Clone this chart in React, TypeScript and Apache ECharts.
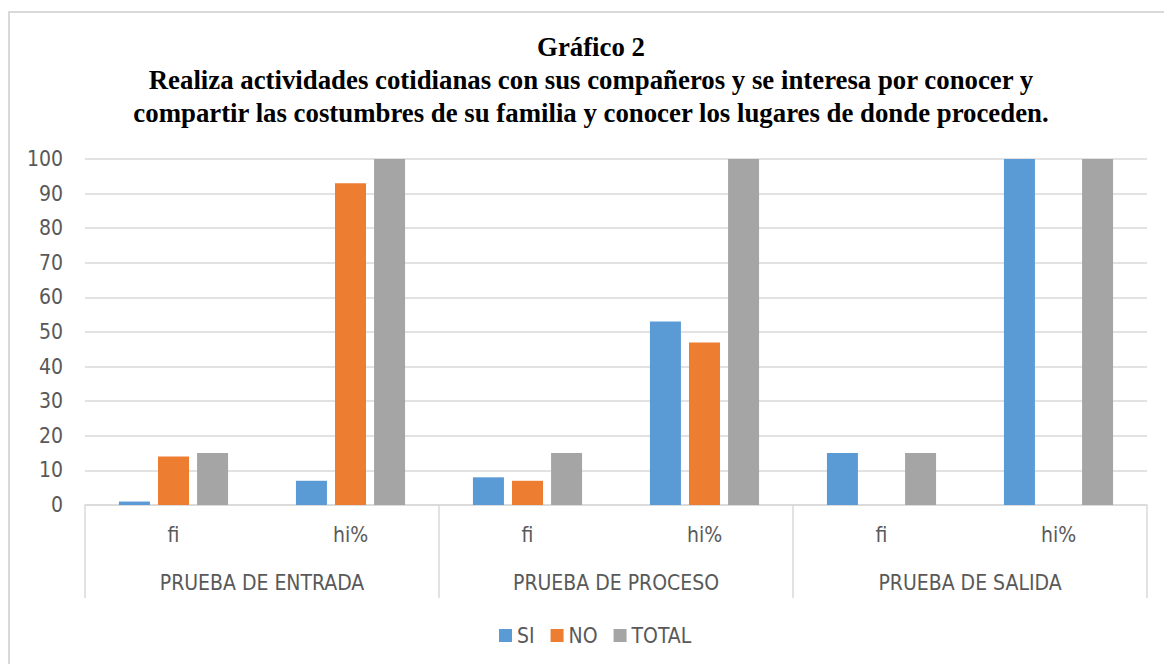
import React, { useEffect, useRef } from "react";
import * as echarts from "echarts";

const subCategories = ["fi", "hi%", "fi", "hi%", "fi", "hi%"];
const groups = ["PRUEBA DE ENTRADA", "PRUEBA DE PROCESO", "PRUEBA DE SALIDA"];
const siValues = [1, 7, 8, 53, 15, 100];
const noValues = [14, 93, 7, 47, 0, 0];
const totalValues = [15, 100, 15, 100, 15, 100];
const titleLines = [
  "Gráfico 2",
  "Realiza actividades cotidianas con sus compañeros y se interesa por conocer y",
  "compartir las costumbres de su familia y conocer los lugares de donde proceden.",
];

const LABEL_FONT = "Liberation Sans Narrow, DejaVu Sans Condensed, sans-serif";
const TEXT_COLOR = "#595959";
const LABEL_SIZE = 21;

export default function App() {
  const ref = useRef<HTMLDivElement>(null);
  useEffect(() => {
    if (!ref.current) return;
    const chart = echarts.init(ref.current, undefined, { renderer: "svg" });
    const bar = (name: string, data: number[], color: string) => ({
      name,
      type: "bar",
      data,
      barWidth: 31,
      barGap: "26%",
      itemStyle: { color },
      xAxisIndex: 0,
    });
    chart.setOption({
      animation: false,
      backgroundColor: "#ffffff",
      graphic: [
        {
          type: "rect",
          shape: { x: 9, y: 12, width: 1170, height: 670 },
          style: { fill: "none", stroke: "#d9d9d9", lineWidth: 2 },
          silent: true,
        },
        ...titleLines.map((t, i) => ({
          type: "text",
          x: 591,
          y: 47 + i * 33,
          style: {
            text: t,
            fontFamily: "Liberation Serif",
            fontWeight: "bold",
            fontSize: 26.8,
            fill: "#000000",
            align: "center",
            verticalAlign: "middle",
          },
        })),
      ],
      legend: {
        data: ["SI", "NO", "TOTAL"],
        top: 620,
        left: 494,
        itemWidth: 13,
        itemHeight: 13,
        itemGap: 16,
        icon: "rect",
        textStyle: { fontSize: LABEL_SIZE, color: TEXT_COLOR, fontFamily: LABEL_FONT },
      },
      grid: { left: 85, right: 17, top: 159, bottom: 159 },
      xAxis: [
        {
          type: "category",
          data: subCategories,
          position: "bottom",
          axisLine: { show: true, lineStyle: { color: "#d9d9d9", width: 1.5 } },
          axisTick: { show: false },
          axisLabel: { fontSize: LABEL_SIZE, color: TEXT_COLOR, fontFamily: LABEL_FONT, margin: 19 },
        },
        {
          type: "category",
          data: groups,
          position: "bottom",
          axisLine: { show: false },
          axisTick: { show: true, length: 93, lineStyle: { color: "#d9d9d9", width: 1.5 } },
          axisLabel: { fontSize: LABEL_SIZE, color: TEXT_COLOR, fontFamily: LABEL_FONT, margin: 67 },
          splitLine: { show: false },
        },
      ],
      yAxis: {
        type: "value",
        min: 0,
        max: 100,
        interval: 10,
        axisLine: { show: false },
        axisTick: { show: false },
        axisLabel: { fontSize: LABEL_SIZE, color: TEXT_COLOR, fontFamily: LABEL_FONT, margin: 22 },
        splitLine: { lineStyle: { color: "#d9d9d9", width: 1.5 } },
      },
      series: [
        bar("SI", siValues, "#5b9bd5"),
        bar("NO", noValues, "#ed7d31"),
        bar("TOTAL", totalValues, "#a5a5a5"),
      ],
    });
    return () => chart.dispose();
  }, []);
  return (
    <div
      ref={ref}
      style={{ position: "fixed", left: 0, top: 0, width: 1164, height: 664 }}
    />
  );
}
